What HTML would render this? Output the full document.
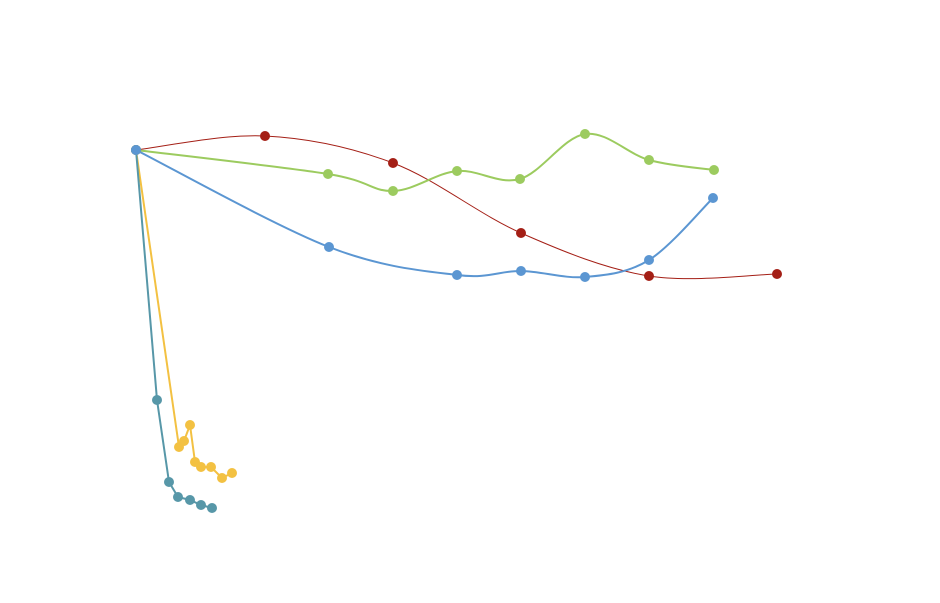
<!DOCTYPE html>
<html><head><meta charset="utf-8"><style>
html,body{margin:0;padding:0;background:#fff;width:940px;height:603px;overflow:hidden}
</style></head><body>
<svg id="s" width="940" height="603" xmlns="http://www.w3.org/2000/svg"></svg>
<script>
const series=[
 {c:"#a41f16",w:1,smooth:true,p:[[136,150],[265,136],[393,163],[521,233],[649,276],[777,274]]},
 {c:"#9ccb5f",w:2,smooth:true,p:[[136,150],[328,174],[393,191],[457,171],[520,179],[585,134],[649,160],[714,170]]},
 {c:"#5b96d2",w:2,smooth:true,p:[[136,150],[329,247],[457,275],[521,271],[585,277],[649,260],[713,198]]},
 {c:"#f3c142",w:2,smooth:false,p:[[136,150],[179,447],[184,441],[190,425],[195,462],[201,467],[211,467],[222,478],[232,473]]},
 {c:"#5797a8",w:2,smooth:false,p:[[136,150],[157,400],[169,482],[178,497],[190,500],[201,505],[212,508]]}
];
const ns="http://www.w3.org/2000/svg",svg=document.getElementById("s");
function path(p,sm){
 let d="M"+p[0][0]+","+p[0][1];
 for(let i=0;i<p.length-1;i++){
  if(!sm){d+=" L"+p[i+1][0]+","+p[i+1][1];continue;}
  const p0=p[i-1]||p[i],p1=p[i],p2=p[i+1],p3=p[i+2]||p2,t=6;
  const c1=[p1[0]+(p2[0]-p0[0])/t,p1[1]+(p2[1]-p0[1])/t];
  const c2=[p2[0]-(p3[0]-p1[0])/t,p2[1]-(p3[1]-p1[1])/t];
  d+=" C"+c1+" "+c2+" "+p2;
 }
 return d;
}
for(const s of series){
 const e=document.createElementNS(ns,"path");
 e.setAttribute("d",path(s.p,s.smooth));e.setAttribute("fill","none");
 e.setAttribute("stroke",s.c);e.setAttribute("stroke-width",s.w);svg.appendChild(e);
}
for(const s of series){
 for(const q of s.p){
  const c=document.createElementNS(ns,"circle");
  c.setAttribute("cx",q[0]);c.setAttribute("cy",q[1]);c.setAttribute("r",5);
  c.setAttribute("fill",s.c);svg.appendChild(c);
 }
}
const c=document.createElementNS(ns,"circle");
c.setAttribute("cx",136);c.setAttribute("cy",150);c.setAttribute("r",5);c.setAttribute("fill","#5b96d2");svg.appendChild(c);
</script>
</body></html>
